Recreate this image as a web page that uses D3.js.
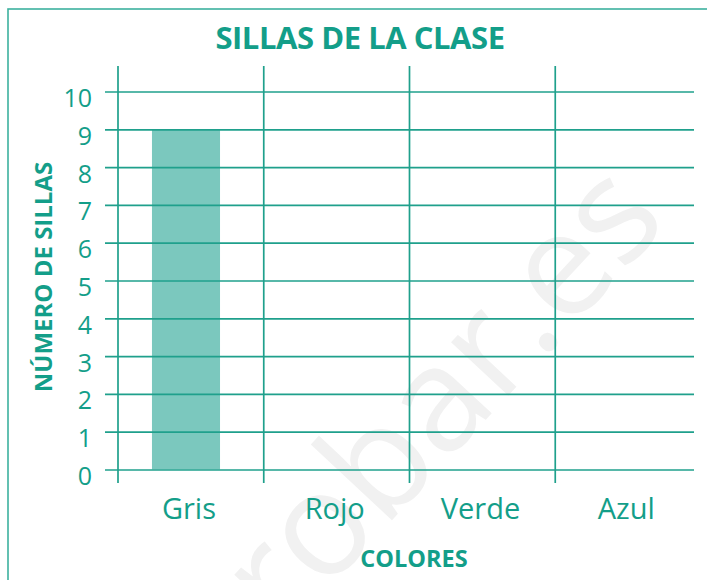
<!DOCTYPE html>
<html>
<head>
<meta charset="utf-8">
<script src="https://cdn.jsdelivr.net/npm/d3@7/dist/d3.min.js"></script>
<style>
  html, body { margin: 0; padding: 0; background: #ffffff; }
  svg { display: block; }
  text { font-family: "Open Sans", "Noto Sans", sans-serif; }
</style>
</head>
<body>
<svg id="chart" width="707" height="580"></svg>
<script>
// ---- data ----
const categories = ["Gris", "Rojo", "Verde", "Azul"];
const values = [9, 0, 0, 0];
const yTicks = [0, 1, 2, 3, 4, 5, 6, 7, 8, 9, 10];
const title = "SILLAS DE LA CLASE";
const yTitle = "NÚMERO DE SILLAS";
const xTitle = "COLORES";
const watermark = "comprobar.es";

// ---- styles ----
const teal = "#139e89";
const lineColor = "#1fa08c";
const barColor = "#7bc8be";

const svg = d3.select("#chart");

// watermark (behind everything)
svg.append("text")
  .attr("transform", "translate(670,222) rotate(-47)")
  .attr("text-anchor", "end")
  .attr("font-size", 146)
  .attr("fill", "#f1f1f1")
  .text(watermark);

// frame
svg.append("rect")
  .attr("x", 8).attr("y", 9)
  .attr("width", 720).attr("height", 600)
  .attr("fill", "none")
  .attr("stroke", "#3db19f")
  .attr("stroke-width", 1.6);

const x = d3.scaleBand().domain(categories).range([118, 701]).padding(0);
const y = d3.scaleLinear().domain([0, 10]).range([469.5, 91.5]);
const bw = x.bandwidth();

// bars
svg.append("g").selectAll("rect")
  .data(categories.map((c, i) => ({ c, v: values[i] })))
  .join("rect")
  .attr("x", d => x(d.c) + bw * 0.233)
  .attr("width", bw * 0.467)
  .attr("y", d => y(d.v))
  .attr("height", d => y(0) - y(d.v))
  .attr("fill", barColor);

// y axis with gridlines
const yAxis = svg.append("g")
  .attr("transform", "translate(118,0)")
  .call(d3.axisLeft(y).tickValues(yTicks).tickFormat(d3.format("d")).tickSize(13).tickPadding(13));
yAxis.select(".domain").remove();
yAxis.selectAll(".tick line")
  .attr("x1", -13).attr("x2", 576)
  .attr("stroke", lineColor).attr("stroke-width", 1.7);
yAxis.selectAll(".tick text")
  .attr("dy", "0.6em")
  .attr("fill", teal)
  .attr("font-size", 25)
  .attr("font-weight", 400)
  .attr("font-family", "'Open Sans', sans-serif");

// vertical lines at band starts
svg.append("g").selectAll("line")
  .data(categories)
  .join("line")
  .attr("x1", d => x(d)).attr("x2", d => x(d))
  .attr("y1", 66).attr("y2", 483)
  .attr("stroke", lineColor).attr("stroke-width", 1.7);

// x category labels
svg.append("g").selectAll("text")
  .data(categories)
  .join("text")
  .attr("x", d => x(d) + bw * 0.487)
  .attr("y", 519)
  .attr("text-anchor", "middle")
  .attr("font-size", 29)
  .attr("font-weight", 400)
  .attr("fill", teal)
  .text(d => d);

// title
svg.append("text")
  .attr("x", 360).attr("y", 49)
  .attr("text-anchor", "middle")
  .attr("font-size", 31)
  .attr("font-weight", 700)
  .attr("letter-spacing", -0.45)
  .attr("fill", teal)
  .text(title);

// y title
svg.append("text")
  .attr("transform", "translate(52,277) rotate(-90)")
  .attr("text-anchor", "middle")
  .attr("font-size", 24)
  .attr("font-weight", 700)
  .attr("fill", teal)
  .text(yTitle);

// x title
svg.append("text")
  .attr("x", 414).attr("y", 567)
  .attr("text-anchor", "middle")
  .attr("font-size", 23.5)
  .attr("font-weight", 700)
  .attr("fill", teal)
  .text(xTitle);
</script>
</body>
</html>
